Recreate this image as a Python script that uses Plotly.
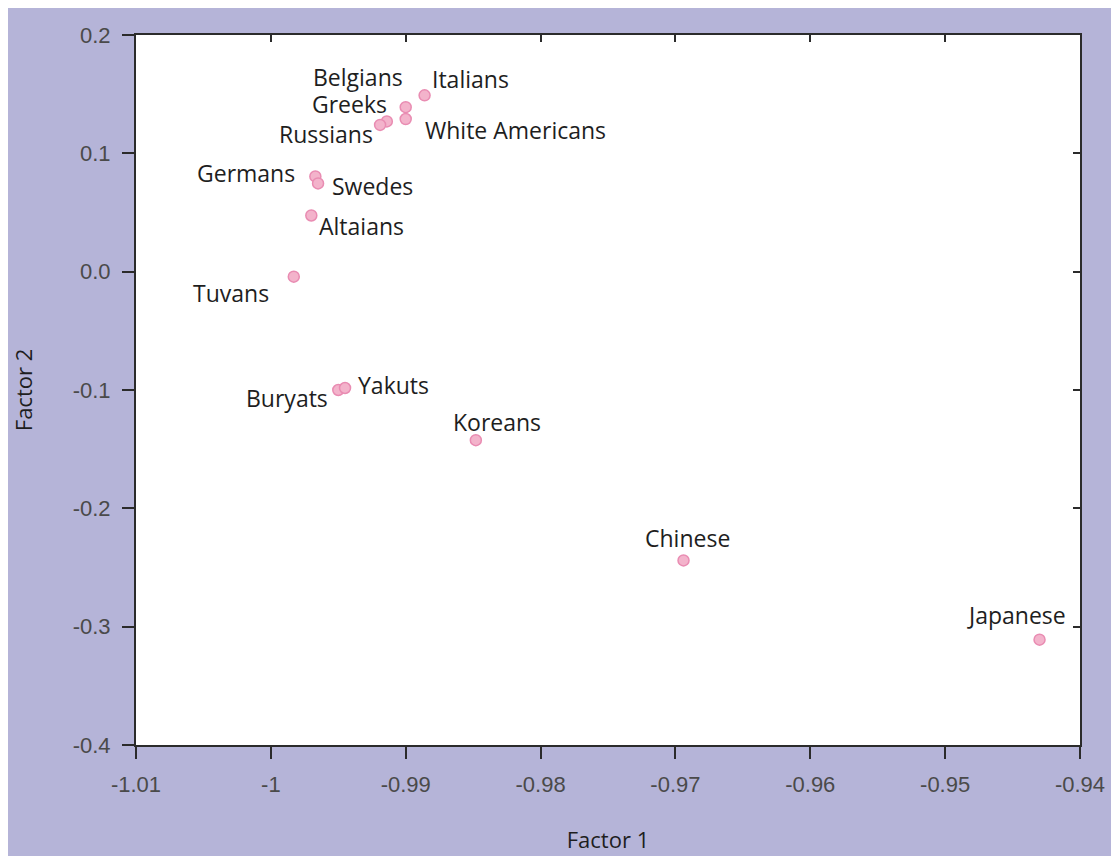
import plotly.graph_objects as go

populations = ["Italians", "Belgians", "Greeks", "Russians", "White Americans",
               "Germans", "Swedes", "Altaians", "Tuvans", "Buryats", "Yakuts",
               "Koreans", "Chinese", "Japanese"]
factor1 = [-0.9886, -0.9900, -0.9914, -0.9919, -0.9900,
           -0.9967, -0.9965, -0.9970, -0.9983, -0.9950, -0.9945,
           -0.9848, -0.9694, -0.9430]
factor2 = [0.149, 0.139, 0.127, 0.124, 0.129,
           0.0805, 0.0746, 0.0475, -0.0042, -0.100, -0.0983,
           -0.1424, -0.244, -0.311]

x_ticks = [-1.01, -1.0, -0.99, -0.98, -0.97, -0.96, -0.95, -0.94]
x_ticktext = ["-1.01", "-1", "-0.99", "-0.98", "-0.97", "-0.96", "-0.95", "-0.94"]
y_ticks = [0.2, 0.1, 0.0, -0.1, -0.2, -0.3, -0.4]
y_ticktext = ["0.2", "0.1", "0.0", "-0.1", "-0.2", "-0.3", "-0.4"]

# label offsets in pixels (dx right, dy up) relative to each point
label_offsets = {
    "Italians": (46, 16), "Belgians": (-48, 30), "Greeks": (-37, 17),
    "Russians": (-54, -9), "White Americans": (110, -11), "Germans": (-69, 3),
    "Swedes": (54, -3), "Altaians": (50, -11), "Tuvans": (-63, -16),
    "Buryats": (-51, -8), "Yakuts": (48, 3), "Koreans": (21, 18),
    "Chinese": (4, 22), "Japanese": (-23, 25),
}

# page has an 8px body margin; figure sized so it fills the window
W, H = 1111, 848
L, R, T, B = 128, 39, 27, 111
BG = "#b5b4d8"
FRAME = "#2b2b2b"
LABEL_FONT = "Open Sans, Noto Sans, sans-serif"
TICK_FONT = "Liberation Sans, Arial, sans-serif"

fig = go.Figure()
fig.add_trace(go.Scatter(
    x=factor1, y=factor2, mode="markers",
    marker=dict(size=11, color="#f3b3cb", line=dict(color="#e98cb2", width=1.5)),
    hoverinfo="text", text=populations, showlegend=False,
))

for name, xv, yv in zip(populations, factor1, factor2):
    dx, dy = label_offsets[name]
    fig.add_annotation(x=xv, y=yv, text=name, showarrow=False,
                       xanchor="center", yanchor="middle", xshift=dx, yshift=dy,
                       font=dict(family=LABEL_FONT, size=23, color="#1e1e1e"))

axis_common = dict(showgrid=False, zeroline=False, showline=True, linecolor=FRAME,
                   linewidth=2, ticks="outside", ticklen=12, tickwidth=2, tickcolor=FRAME,
                   ticklabelstandoff=7, automargin=False,
                   tickfont=dict(family=TICK_FONT, size=22, color="#4a4a4a"))

fig.update_layout(
    width=W, height=H,
    margin=dict(l=L, r=R, t=T, b=B),
    paper_bgcolor=BG,
    plot_bgcolor="white",
    xaxis=dict(range=[-1.01, -0.94], tickvals=x_ticks, ticktext=x_ticktext,
               title=dict(text="Factor 1", standoff=36,
                          font=dict(family=LABEL_FONT, size=22, color="#1e1e1e")),
               **axis_common),
    yaxis=dict(range=[-0.4, 0.2], tickvals=y_ticks, ticktext=y_ticktext,
               title=dict(text="Factor 2", standoff=34,
                          font=dict(family=LABEL_FONT, size=22, color="#1e1e1e")),
               **axis_common),
    xaxis2=dict(overlaying="x", side="top", matches="x", range=[-1.01, -0.94],
                tickvals=x_ticks, showticklabels=False, ticks="inside", ticklen=7,
                tickwidth=2, tickcolor=FRAME, showline=True, linecolor=FRAME,
                linewidth=2, showgrid=False, zeroline=False),
    yaxis2=dict(overlaying="y", side="right", matches="y", range=[-0.4, 0.2],
                tickvals=y_ticks, showticklabels=False, ticks="inside", ticklen=7,
                tickwidth=2, tickcolor=FRAME, showline=True, linecolor=FRAME,
                linewidth=2, showgrid=False, zeroline=False),
)
# invisible trace to activate the mirrored axes
fig.add_trace(go.Scatter(x=[factor1[0]], y=[factor2[0]], xaxis="x2", yaxis="y2",
                         mode="markers", marker=dict(opacity=0), hoverinfo="skip",
                         showlegend=False))

fig.write_html("out.html")
